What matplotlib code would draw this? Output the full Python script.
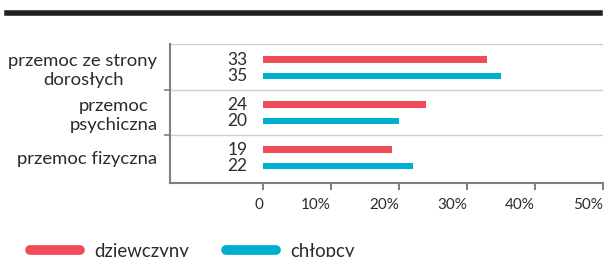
import matplotlib.pyplot as plt
import numpy as np
from matplotlib.lines import Line2D

plt.rcParams['font.family'] = ['Lato', 'DejaVu Sans']

categories = ["przemoc ze strony\ndorosłych", "przemoc\npsychiczna", "przemoc fizyczna"]
dziewczyny = [33, 24, 19]
chlopcy = [35, 20, 22]
tick_values = [0, 10, 20, 30, 40, 50]
tick_labels = ["0", "10%", "20%", "30%", "40%", "50%"]
series_names = ["dziewczyny", "chłopcy"]

RED = "#ef4b59"
CYAN = "#00aecf"
GREY = "#808080"
TEXT = "#2b2b2b"

fig = plt.figure(figsize=(6.04, 2.57), dpi=100)
ax = fig.add_axes([170 / 604, 1 - 183 / 257, 433 / 604, 139 / 257])

y = np.arange(len(categories))
off = 0.178
h = 0.155
ax.barh(y - off, dziewczyny, height=h, color=RED)
ax.barh(y + off, chlopcy, height=h, color=CYAN)

for yi, v in zip(y - off, dziewczyny):
    ax.text(-2.3, yi, str(v), ha="right", va="center", fontsize=12.5, color=TEXT)
for yi, v in zip(y + off, chlopcy):
    ax.text(-2.3, yi, str(v), ha="right", va="center", fontsize=12.5, color=TEXT)

ax.set_xlim(-13.7, 50)
ax.set_ylim(2.556, -0.533)

# group separators
for s in [-0.533, 0.5, 1.5]:
    ax.axhline(s, color="#cfcfcf", lw=1.0, zorder=0)

ax.set_xticks(tick_values)
ax.set_xticklabels(tick_labels, fontsize=11, color=TEXT, ha="right")
ax.tick_params(axis="x", length=5, width=1.5, color=GREY, pad=6)

ax.set_yticks(y)
ax.set_yticklabels(categories, fontsize=13.3, color=TEXT, multialignment="center")
ax.tick_params(axis="y", length=0, pad=9)
ax.set_yticks([0.5, 1.5], minor=True)
ax.tick_params(axis="y", which="minor", length=4, width=1.2, color=GREY)

for side in ["top", "right"]:
    ax.spines[side].set_visible(False)
for side in ["left", "bottom"]:
    ax.spines[side].set_color(GREY)
    ax.spines[side].set_linewidth(1.5)

# dark rule at the top
fig.add_artist(Line2D([7 / 604, 600 / 604], [1 - 13 / 257] * 2, color="#231f20", lw=4,
                      transform=fig.transFigure))

handles = [Line2D([], [], color=RED, lw=7, solid_capstyle="round"),
           Line2D([], [], color=CYAN, lw=7, solid_capstyle="round")]
fig.legend(handles, series_names, loc="lower left", bbox_to_anchor=(13 / 604, -0.075),
           ncol=2, frameon=False, fontsize=13.4, handlelength=2.7, columnspacing=2.0,
           handletextpad=0.75, labelcolor=TEXT)

fig.savefig("out.png", dpi=100)
